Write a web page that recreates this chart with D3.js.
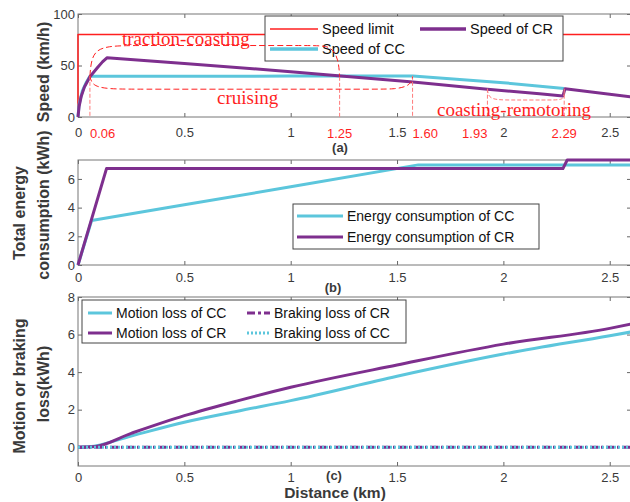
<!DOCTYPE html>
<html>
<head>
<meta charset="utf-8">
<script src="https://cdn.jsdelivr.net/npm/d3@7"></script>
<style>
  body { margin: 0; background: #fff; }
  text { font-family: "Liberation Sans", Arial, sans-serif; }
</style>
</head>
<body>
<script>
// ---- data ----
// (a) speed, km/h vs distance, km
const speedLimit = [[0, 0], [0, 80], [2.6, 80]];
const speedCC = [[0, 0], [0.005, 12], [0.02, 25], [0.04, 34], [0.056, 39.5], [1.0, 39.7], [1.575, 39.8], [2.0, 33.3], [2.286, 27.6]];
const speedCR = [[0, 0], [0.005, 10], [0.015, 20], [0.03, 29], [0.056, 39], [0.09, 47.5], [0.115, 53.5], [0.136, 57.5],
  [0.5, 52], [1.0, 44], [1.25, 39.5], [1.575, 34], [1.925, 27], [2.17, 22.5], [2.28, 20.5], [2.29, 27.5], [2.6, 19.5]];
// (b) total energy, kWh
const energyCC = [[0, 0], [0.064, 3.1], [0.5, 4.2], [1.0, 5.45], [1.6, 6.98], [2.6, 6.98]];
const energyCR = [[0, 0], [0.134, 6.72], [2.28, 6.72], [2.3, 7.32], [2.6, 7.32]];
// (c) motion / braking loss, kWh
const motionCC = [[0, 0], [0.05, 0.02], [0.25, 0.6], [0.5, 1.33], [0.75, 1.92], [1.0, 2.48], [1.5, 3.78], [2.0, 4.96], [2.5, 5.94], [2.6, 6.14]];
const motionCR = [[0, 0], [0.07, 0.02], [0.25, 0.74], [0.5, 1.68], [0.75, 2.47], [1.0, 3.19], [1.5, 4.38], [2.0, 5.49], [2.5, 6.33], [2.6, 6.56]];
const brakingCR = [[0, 0], [2.6, 0]];
const brakingCC = [[0, 0], [2.6, 0]];

// phase annotations (distance, km)
const markDist = [0.056, 1.23, 1.573, 1.925, 2.286];
const markText = ['0.06', '1.25', '1.60', '1.93', '2.29'];
const markAnchor = ['start', 'middle', 'start', 'end', 'middle'];
const markTop = [40, 39, 40, 27.5, 27.5];
// dashed region outlines (control polygons in data units)
const tractionArc = [[0.056, 40], [0.056, 40], [0.065, 62], [0.13, 69.4], [0.3, 69.4], [1.1, 69.4], [1.19, 69.4], [1.225, 56], [1.23, 39], [1.23, 39]];
const cruisingArc = [[0.056, 40], [0.056, 40], [0.065, 31], [0.13, 27], [0.3, 27], [1.4, 27], [1.5, 27], [1.565, 31], [1.573, 39], [1.573, 39]];
const remotorArc = [[1.925, 27], [1.925, 27], [1.93, 19], [1.97, 16.5], [2.05, 16.5], [2.2, 16.5], [2.27, 16.5], [2.284, 19], [2.286, 24], [2.286, 24]];

const xTicks = [0, 0.5, 1, 1.5, 2, 2.5];
const purple = '#7e2f8e', cyan = '#5cc6dc', red = '#ff1f1f';

const svg = d3.select('body').append('svg')
  .attr('width', 630)
  .attr('height', 502);

const x = d3.scaleLinear().domain([0, 2.6]).range([78, 631]);

const panel = (top, bottom, yDomain, yTicks, yFmt, padX) => {
  const y = d3.scaleLinear().domain(yDomain).range([bottom, top]);
  const g = svg.append('g');
  const tickStyle = (sel) => {
    sel.selectAll('.domain').remove();
    sel.selectAll('line').attr('stroke', '#666');
    sel.selectAll('text').attr('fill', '#3a3a3a').style('font-size', '13px');
  };
  g.append('g').attr('transform', `translate(0,${bottom})`)
    .call(d3.axisBottom(x).tickValues(xTicks).tickSize(-4).tickPadding(padX).tickFormat(d3.format('')))
    .call(tickStyle);
  g.append('g').attr('transform', `translate(0,${top})`)
    .call(d3.axisTop(x).tickValues(xTicks).tickSize(-4).tickFormat(''))
    .call(tickStyle);
  g.append('g').attr('transform', 'translate(78,0)')
    .call(d3.axisLeft(y).tickValues(yTicks).tickSize(-4).tickPadding(3).tickFormat(yFmt))
    .call(tickStyle);
  g.append('g').attr('transform', 'translate(631,0)')
    .call(d3.axisRight(y).tickValues(yTicks).tickSize(-4).tickFormat(''))
    .call(tickStyle);
  g.append('rect')
    .attr('x', 78).attr('y', top).attr('width', 553).attr('height', bottom - top)
    .attr('fill', 'none').attr('stroke', '#777').attr('stroke-width', 1);
  return y;
};

const addLine = (data, y, color, width, dash, curve) => {
  const line = d3.line().x((d) => x(d[0])).y((d) => y(d[1])).curve(curve || d3.curveLinear);
  svg.append('path')
    .datum(data)
    .attr('d', line)
    .attr('fill', 'none')
    .attr('stroke', color)
    .attr('stroke-width', width)
    .attr('stroke-dasharray', dash || null)
    .attr('stroke-linejoin', 'round');
};

const legend = (x0, y0, w, h, rows) => {
  const lg = svg.append('g');
  lg.append('rect').attr('x', x0).attr('y', y0).attr('width', w).attr('height', h)
    .attr('fill', '#fff').attr('stroke', '#444').attr('stroke-width', 1);
  rows.forEach((r) => {
    lg.append('line').attr('x1', r.x1).attr('x2', r.x2).attr('y1', r.y).attr('y2', r.y)
      .attr('stroke', r.color).attr('stroke-width', r.width).attr('stroke-dasharray', r.dash || null);
    lg.append('text').attr('x', r.x2 + 4).attr('y', r.y).attr('dy', '0.36em')
      .style('font-size', (r.size || 14) + 'px').attr('fill', '#111').text(r.label);
  });
};

const yLabel = (cx, cy, label) => {
  svg.append('text')
    .attr('transform', `translate(${cx},${cy}) rotate(-90)`)
    .attr('text-anchor', 'middle').attr('dy', '0.35em')
    .style('font-size', '16px').style('font-weight', 'bold').attr('fill', '#3a3a3a')
    .text(label);
};

const tag = (cx, cy, label, size) => {
  svg.append('text').attr('x', cx).attr('y', cy).attr('dy', '0.35em')
    .attr('text-anchor', 'middle')
    .style('font-size', (size || 13) + 'px').style('font-weight', 'bold').attr('fill', '#3a3a3a')
    .text(label);
};

// ---- (a) speed ----
const ya = panel(14, 117, [0, 100], [0, 50, 100], d3.format('d'), 11);
addLine(speedLimit, ya, red, 1.5);
addLine(speedCC, ya, cyan, 3);
addLine(speedCR, ya, purple, 3);
legend(265, 16, 298, 45, [
  {x1: 270, x2: 318, y: 29, color: red, width: 1.5, label: 'Speed limit', size: 14.5},
  {x1: 420, x2: 466, y: 29, color: purple, width: 3.5, label: 'Speed of CR', size: 14.5},
  {x1: 270, x2: 318, y: 49, color: cyan, width: 3.5, label: 'Speed of CC', size: 14.5}
]);

// phase markers
markDist.forEach((d, i) => {
  svg.append('line')
    .attr('x1', x(d)).attr('x2', x(d)).attr('y1', ya(markTop[i])).attr('y2', ya(0))
    .attr('stroke', '#ff7a7a').attr('stroke-width', 1).attr('stroke-dasharray', '4,2');
  svg.append('text').attr('x', x(d)).attr('y', 133).attr('dy', '0.35em')
    .attr('text-anchor', markAnchor[i])
    .style('font-size', '13px').attr('fill', red).text(markText[i]);
});
const arc = d3.line().x((d) => x(d[0])).y((d) => ya(d[1])).curve(d3.curveBasis);
[tractionArc, cruisingArc].forEach((a) => {
  svg.append('path').datum(a).attr('d', arc).attr('fill', 'none')
    .attr('stroke', red).attr('stroke-width', 1).attr('stroke-dasharray', '6,3');
});
svg.append('path').datum(remotorArc).attr('d', arc).attr('fill', 'none')
  .attr('stroke', '#ff7a7a').attr('stroke-width', 1).attr('stroke-dasharray', '4,2');

const serif = (px, py, label) => {
  svg.append('text').attr('x', px).attr('y', py)
    .style('font-family', '"Liberation Serif", "Times New Roman", serif')
    .style('font-size', '19px').attr('fill', red).text(label);
};
serif(122, 45, 'traction-coasting');
serif(217, 104, 'cruising');
serif(437, 116, 'coasting-remotoring');

tag(340, 147, '(a)');
yLabel(43, 72, 'Speed (km/h)');

// ---- (b) energy ----
const yb = panel(160, 265, [0, 7.32], [0, 2, 4, 6], d3.format('d'), 8);
addLine(energyCC, yb, cyan, 3);
addLine(energyCR, yb, purple, 3);
legend(293, 204, 246, 45, [
  {x1: 297, x2: 343, y: 216, color: cyan, width: 3, label: 'Energy consumption of CC'},
  {x1: 297, x2: 343, y: 237, color: purple, width: 3, label: 'Energy consumption of CR'}
]);
tag(333, 287, '(b)');
yLabel(19, 213, 'Total energy');
yLabel(43, 205, 'consumption (kWh)');

// ---- (c) losses ----
const yc = panel(297, 466, [-1, 8], [0, 2, 4, 6, 8], d3.format('d'), 7);
addLine(motionCC, yc, cyan, 3, null, d3.curveMonotoneX);
addLine(motionCR, yc, purple, 3, null, d3.curveMonotoneX);
addLine(brakingCR, yc, purple, 3, '8,3,2,3');
addLine(brakingCC, yc, cyan, 3, '2,2');
legend(82, 300, 324, 43, [
  {x1: 88, x2: 112, y: 313, color: cyan, width: 3, label: 'Motion loss of CC'},
  {x1: 88, x2: 112, y: 333, color: purple, width: 3, label: 'Motion loss of CR'},
  {x1: 247, x2: 270, y: 313, color: purple, width: 3, dash: '8,3,3,3', label: 'Braking loss of CR'},
  {x1: 247, x2: 270, y: 333, color: cyan, width: 3, dash: '2,2', label: 'Braking loss of CC'}
]);
tag(334, 475, '(c)');
yLabel(19, 386, 'Motion or braking');
yLabel(43, 384, 'loss(kWh)');
tag(335, 493, 'Distance (km)', 15.5);
</script>
</body>
</html>
